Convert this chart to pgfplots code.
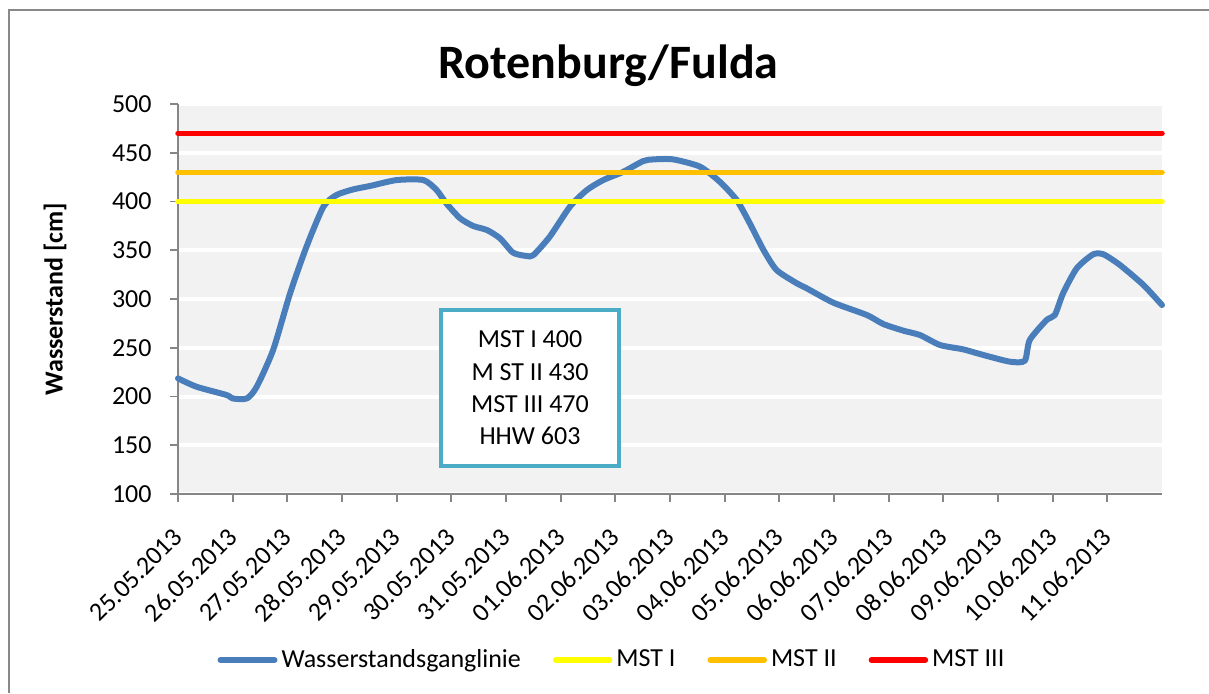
\documentclass[border=0pt]{standalone}
\usepackage{pgfplots}
\pgfplotsset{compat=1.18}
\usepackage{fontspec}
\setmainfont{Carlito}
\definecolor{axisgrey}{HTML}{868686}
\definecolor{bordergrey}{HTML}{898989}
\definecolor{bgfill}{HTML}{F2F2F2}
\definecolor{serblue}{HTML}{4A7EBB}
\definecolor{mstyellow}{HTML}{FFFF00}
\definecolor{mstorange}{HTML}{FFC000}
\definecolor{mstred}{HTML}{FF0000}
\definecolor{boxteal}{HTML}{4BACC6}
\begin{document}
\begin{tikzpicture}
\useasboundingbox (0pt,0pt) rectangle (604.5pt,346.5pt);
\fill[white] (0pt,0pt) rectangle (604.5pt,346.5pt);
\draw[bordergrey, line width=1pt] (4.25pt,0pt) -- (4.25pt,341.75pt) -- (604.5pt,341.75pt);
\begin{axis}[
  at={(89pt,99.5pt)}, anchor=south west,
  scale only axis, width=492pt, height=195pt,
  xmin=0, xmax=18, ymin=100, ymax=500,
  axis lines*=left,
  axis line style={draw=axisgrey, line width=0.9pt, -},
  axis background/.style={fill=bgfill},
  ymajorgrids, grid style={white, line width=2pt},
  tick align=outside, major tick length=4pt,
  tick style={draw=axisgrey, line width=0.9pt},
  ytick={100,150,...,500},
  xtick={0,1,...,17},
  xticklabels={25.05.2013,26.05.2013,27.05.2013,28.05.2013,29.05.2013,30.05.2013,31.05.2013,01.06.2013,02.06.2013,03.06.2013,04.06.2013,05.06.2013,06.06.2013,07.06.2013,08.06.2013,09.06.2013,10.06.2013,11.06.2013},
  ticklabel style={font=\fontsize{13}{15.6}\selectfont},
  /pgf/number format/assume math mode=true,
  yticklabel style={anchor=east, inner sep=0pt, xshift=-9pt},
  xticklabel style={rotate=45, anchor=east, inner sep=0pt, yshift=-10.9pt, xshift=-10.9pt},
  clip=false,
  legend columns=-1,
  legend style={at={(0.442,-0.4256)}, anchor=center, draw=none, fill=none,
    font=\fontsize{13}{15.6}\selectfont, column sep=0pt,
    /tikz/every even column/.append style={column sep=14pt}},
  legend image code/.code={\draw[#1, line cap=round] (0pt,0pt) -- (27pt,0pt);},
]
\addplot[serblue, line width=3pt, line cap=round, line join=round, smooth, tension=0.4] coordinates {
(0,218.6) (0.34,210) (0.89,201.5) (1.0,198) (1.26,198) (1.44,210) (1.74,247.7)
(2.05,305.8) (2.35,353.6) (2.66,394.7) (2.9,406.7) (3.21,412.5) (3.51,415.9)
(4.0,422) (4.49,422) (4.73,411.8) (4.91,398) (5.16,382.8) (5.40,374.9)
(5.65,370.8) (5.89,362.3) (6.13,347.5) (6.38,344.1) (6.5,345) (6.80,363.9)
(7.17,394.7) (7.48,411.8) (7.78,422) (8.15,430.6) (8.51,441.5) (8.7,443.2)
(9.06,443.2) (9.55,435.7) (9.91,420.3) (10.22,401.5) (10.46,377.6) (10.71,350.3)
(10.95,329.7) (11.32,316.1) (11.5,311) (11.99,296.2) (12.6,283.6) (12.9,274.4)
(13.27,267.5) (13.57,263.1) (13.94,252.8) (14.36,248.4) (14.73,242.6) (15.22,235.7)
(15.49,236.7) (15.58,257.9) (15.89,278.5) (16.04,283.6) (16.19,305.8) (16.44,331.5)
(16.74,345.8) (16.93,345.8) (17.23,334.9) (17.66,314.4) (18.0,293.8)
};
\addlegendentry{Wasserstandsganglinie}
\addplot[mstyellow, line width=2.75pt, line cap=round] coordinates {(0,400) (18,400)};
\addlegendentry{MST I}
\addplot[mstorange, line width=2.75pt, line cap=round] coordinates {(0,430) (18,430)};
\addlegendentry{MST II}
\addplot[mstred, line width=2.75pt, line cap=round] coordinates {(0,470) (18,470)};
\addlegendentry{MST III}
\end{axis}
\node[anchor=base, font=\fontsize{24}{28}\selectfont\bfseries] at (304.25pt,307.5pt) {Rotenburg/Fulda};
\node[rotate=90, font=\fontsize{13}{15.6}\selectfont\bfseries] at (27.5pt,197pt) {Wasserstand [cm]};
\draw[boxteal, line width=2pt, fill=white] (220.7pt,113.7pt) rectangle (309.3pt,191.3pt);
\node[align=center, font=\fontsize{13}{16.2}\selectfont] at (265pt,152.5pt) {MST I 400\\M ST II 430\\MST III 470\\HHW 603};
\end{tikzpicture}
\end{document}
